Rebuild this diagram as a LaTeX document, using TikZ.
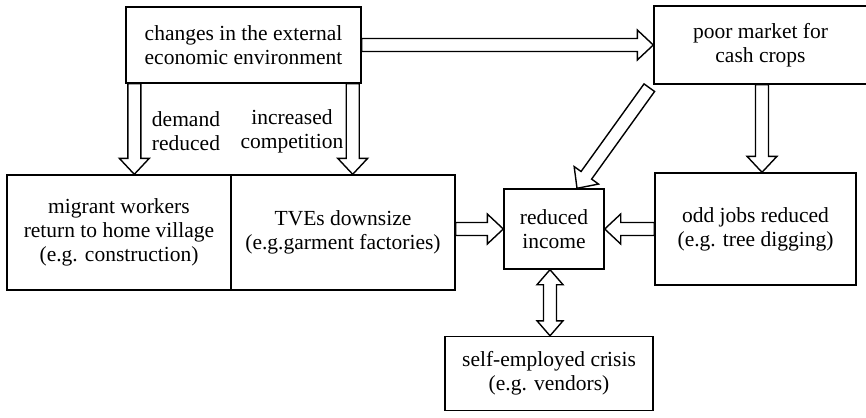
\documentclass[tikz,border=0pt]{standalone}
\usepackage{fontspec}
\setmainfont{Liberation Serif}
\usetikzlibrary{calc}
\tikzset{
 box/.style={draw, line width=1.4pt, inner sep=0pt, align=center, font=\fontsize{21.5}{24}\selectfont},
 lbl/.style={inner sep=0pt, align=center, font=\fontsize{21.5}{24}\selectfont},
 blk/.style={draw, line width=1.4pt, fill=white, line join=miter},
}
% single block arrow: #1 start, #2 tip
\newcommand\blockarrow[2]{%
 \coordinate (baC) at ($(#2)!16pt!(#1)$);
 \draw[blk] ($(#1)!6.5pt!90:(#2)$) -- ($(baC)!6.5pt!90:(#2)$) -- ($(baC)!15pt!90:(#2)$) -- (#2)
   -- ($(baC)!15pt!-90:(#2)$) -- ($(baC)!6.5pt!-90:(#2)$) -- ($(#1)!6.5pt!-90:(#2)$) -- cycle;}
% double block arrow
\newcommand\dblockarrow[2]{%
 \coordinate (baC) at ($(#2)!15pt!(#1)$);
 \coordinate (baD) at ($(#1)!15pt!(#2)$);
 \draw[blk] (#1) -- ($(baD)!13pt!90:(#2)$) -- ($(baD)!6.5pt!90:(#2)$) -- ($(baC)!6.5pt!90:(#2)$) -- ($(baC)!13pt!90:(#2)$) -- (#2)
   -- ($(baC)!13pt!-90:(#2)$) -- ($(baC)!6.5pt!-90:(#2)$) -- ($(baD)!6.5pt!-90:(#2)$) -- ($(baD)!13pt!-90:(#2)$) -- cycle;}
\begin{document}
\begin{tikzpicture}[x=1pt,y=-1pt]
\useasboundingbox (0,0) rectangle (866,417);
\node[box, minimum width=235pt, minimum height=76pt] (top) at (243.5,45) {changes in the external\\economic environment};
\node[box, minimum width=213pt, minimum height=78pt] (poor) at (760.5,45) {poor market for\\cash crops};
\node[box, minimum width=224pt, minimum height=115pt] (mig) at (119,232.5) {migrant workers\\return to home village\\(e.g. construction)};
\node[box, minimum width=224pt, minimum height=115pt] (tve) at (343,232.5) {TVEs downsize\\(e.g.garment factories)};
\node[box, minimum width=100pt, minimum height=80pt] (inc) at (554,229) {reduced\\income};
\node[box, minimum width=201pt, minimum height=112pt] (odd) at (755.5,229) {odd jobs reduced\\(e.g. tree digging)};
\node[box, minimum width=208pt, minimum height=74pt] (self) at (549,373.5) {self-employed crisis\\(e.g. vendors)};
\node[lbl] (l1) at (186,131) {demand\\reduced};
\node[lbl] (l2) at (292,131) {increased\\competition};
% connectors
\coordinate (a2s) at ($(top.south west)+(9,0)$);
\coordinate (a2e) at (a2s |- mig.north);
\coordinate (a3s) at ($(top.south east)+(-9,0)$);
\coordinate (a3e) at (a3s |- tve.north);
\coordinate (a4s) at ($(poor.south)+(1.5,0)$);
\coordinate (a4e) at (a4s |- odd.north);
\coordinate (a5s) at (tve.east |- inc.west);
\coordinate (a7s) at ($(poor.south west)+(-4,3)$);
\coordinate (a7e) at ($(inc.north)+(23,0)$);
\coordinate (a8s) at ($(inc.south)+(-4,0)$);
\coordinate (a8e) at (a8s |- self.north);
\blockarrow{top.east}{poor.west}
\blockarrow{a2s}{a2e}
\blockarrow{a3s}{a3e}
\blockarrow{a4s}{a4e}
\blockarrow{a5s}{inc.west}
\blockarrow{odd.west}{inc.east}
\blockarrow{a7s}{a7e}
\dblockarrow{a8s}{a8e}
\end{tikzpicture}
\end{document}
